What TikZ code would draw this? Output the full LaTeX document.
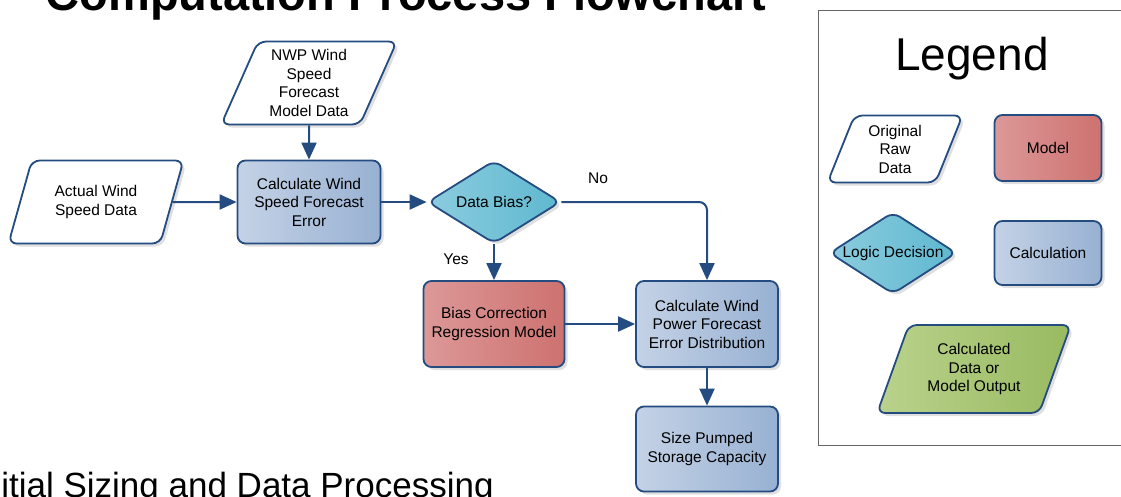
\documentclass[tikz,border=0pt]{standalone}
\usepackage{fontspec}
\setmainfont{Liberation Sans}
\usepackage{tikz}
\usetikzlibrary{shapes,arrows.meta,shadows,positioning}
\definecolor{edge}{RGB}{36,76,128}
\definecolor{calcA}{RGB}{196,210,230}
\definecolor{calcB}{RGB}{152,177,210}
\definecolor{modelA}{RGB}{220,152,152}
\definecolor{modelB}{RGB}{205,114,112}
\definecolor{decA}{RGB}{140,204,222}
\definecolor{decB}{RGB}{94,184,208}
\definecolor{outA}{RGB}{186,210,140}
\definecolor{outB}{RGB}{152,186,96}
\tikzstyle{arrow}=[draw=edge,line width=2pt,-{Triangle[length=17pt,width=15pt]}]
\tikzstyle{base}=[draw=edge,line width=1.8pt,rounded corners=8pt,align=center,inner sep=2pt,drop shadow={shadow xshift=3pt,shadow yshift=-3pt,opacity=0.25}]
\tikzstyle{calcbox}=[base,rectangle,left color=calcA,right color=calcB]
\tikzstyle{model}=[base,rectangle,left color=modelA,right color=modelB]
\tikzstyle{decision}=[base,diamond,aspect=1.6,inner sep=0pt,left color=decA,right color=decB]
\tikzstyle{rawdata}=[base,trapezium,trapezium left angle=67,trapezium right angle=113,trapezium stretches=true,fill=white]
\tikzstyle{outdata}=[rawdata,left color=outA,right color=outB]
\begin{document}
\begin{tikzpicture}[x=1pt,y=-1pt,node distance=213pt,font=\fontsize{15.5}{18.5}\selectfont]
\useasboundingbox (0,0) rectangle (1121,496);
\clip (0,0) rectangle (1121,496);
\node [anchor=base,font=\bfseries\fontsize{47}{50}\selectfont] (title) at (406,10) {Computation Process Flowchart};
\node [anchor=base west,inner sep=0pt,font=\fontsize{35}{40}\selectfont] (sub) at (-28,497) {Initial Sizing and Data Processing};

\node [calcbox,minimum width=143pt,minimum height=83pt] (wsfe) at (309,202) {Calculate Wind\\Speed Forecast\\Error};
\node [rawdata,minimum width=175pt,minimum height=83pt,left of=wsfe] (actual) {Actual Wind\\Speed Data};
\node [rawdata,minimum width=176pt,minimum height=83pt,above of=wsfe,node distance=119pt] (nwp) {NWP Wind\\Speed\\Forecast\\Model Data};
\node [decision,minimum width=133pt,minimum height=83pt,right of=wsfe,node distance=185pt] (bias) {Data Bias?};
\node [model,minimum width=141pt,minimum height=86pt,below of=bias,node distance=122pt] (corr) {Bias Correction\\Regression Model};
\node [calcbox,minimum width=142pt,minimum height=86pt,right of=corr] (wpfe) {Calculate Wind\\Power Forecast\\Error Distribution};
\node [calcbox,minimum width=142pt,minimum height=85pt,below of=wpfe,node distance=125pt] (size) {Size Pumped\\Storage Capacity};
\node (yes) at (456,259) {Yes};
\node (no) at (598,178) {No};

\draw[arrow] (actual) -- (wsfe);
\draw[arrow] (nwp) -- (wsfe);
\draw[arrow] (wsfe) -- (bias);
\draw[arrow] (bias) -- (corr);
\draw[arrow,rounded corners=8pt] (bias.east) -| (wpfe.north);
\draw[arrow] (corr) -- (wpfe);
\draw[arrow] (wpfe) -- (size);

\node [draw=black!60,line width=1pt,anchor=north west,minimum width=320pt,minimum height=435pt] (legend) at (818,10) {};
\node [anchor=base,font=\fontsize{46}{50}\selectfont] (legendtitle) at (972,70) {Legend};
\node [rawdata,minimum width=136pt,minimum height=67pt,trapezium left angle=70,trapezium right angle=110] (raw) at (895,149) {Original\\Raw\\Data};
\node [model,minimum width=107pt,minimum height=66pt] (mdl) at (1048,148) {Model};
\node [decision,minimum width=127pt,minimum height=82pt] (logic) at (893,253) {Logic Decision};
\node [calcbox,minimum width=107pt,minimum height=64pt] (calc) at (1048,253) {Calculation};
\node [outdata,minimum width=194pt,minimum height=88pt] (out) at (974,369) {Calculated\\Data or\\Model Output};
\end{tikzpicture}
\end{document}
